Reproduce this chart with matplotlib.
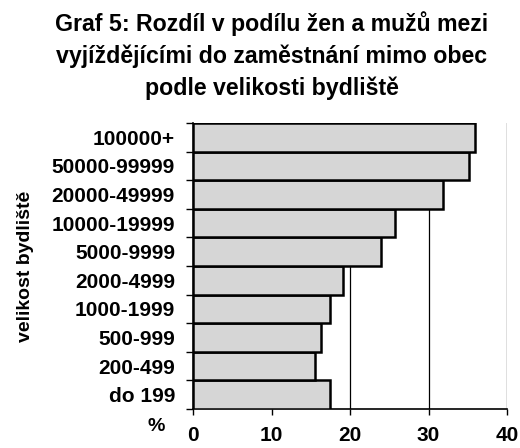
import numpy as np
import matplotlib
matplotlib.use("Agg")
import matplotlib.pyplot as plt

plt.rcParams['font.family'] = ['Liberation Sans', 'DejaVu Sans']
plt.rcParams['font.weight'] = 'bold'

categories = ['do 199', '200-499', '500-999', '1000-1999', '2000-4999',
              '5000-9999', '10000-19999', '20000-49999', '50000-99999', '100000+']
values = [17.4, 15.5, 16.3, 17.4, 19.1, 23.9, 25.7, 31.9, 35.2, 35.9]
xticks = [0, 10, 20, 30, 40]

title_lines = ['Graf 5: Rozdíl v podílu žen a mužů mezi',
               'vyjíždějícími do zaměstnání mimo obec',
               'podle velikosti bydliště']

W, H = 520, 448
fig = plt.figure(figsize=(W / 100, H / 100), dpi=100)
ax = fig.add_axes([193 / W, 1 - 409 / H, 314 / W, 286 / H])

pos = np.arange(len(categories))
ax.barh(pos, values, height=1.0, color='#d6d6d6', edgecolor='black',
        linewidth=1.8, zorder=3)

ax.set_xlim(0, 40)
ax.set_ylim(-0.5, len(categories) - 0.5)

# vertical grid lines at the x ticks
ax.set_xticks(xticks)
ax.set_xticklabels([str(t) for t in xticks], fontsize=15, fontweight='bold')
ax.xaxis.grid(True, color='black', linewidth=0.9, zorder=0)
ax.tick_params(axis='x', length=4, width=1, pad=8.5)

# ticks between bars, labels centred on bars
ax.set_yticks(np.arange(len(categories) + 1) - 0.5)
ax.set_yticklabels([])
ax.set_yticks(pos, minor=True)
ax.set_yticklabels(categories, minor=True, fontsize=15, fontweight='bold')
ax.tick_params(axis='y', which='major', length=5, width=1)
ax.tick_params(axis='y', which='minor', length=0, pad=13)

for s in ['top', 'right']:
    ax.spines[s].set_visible(False)
ax.spines['left'].set_linewidth(1.2)
ax.spines['bottom'].set_linewidth(1.2)

ax.set_ylabel('velikost bydliště', fontsize=14, fontweight='bold')
ax.yaxis.set_label_coords(-0.505, 0.5)

fig.text(156 / W, 1 - 418 / H, '%', fontsize=14, fontweight='bold',
         ha='center', va='top')
for line, base in zip(title_lines, [31, 63, 95]):
    fig.text(0.522, 1 - base / H, line, fontsize=16.7, fontweight='bold',
             ha='center', va='baseline')

fig.savefig('out.png', dpi=100)
